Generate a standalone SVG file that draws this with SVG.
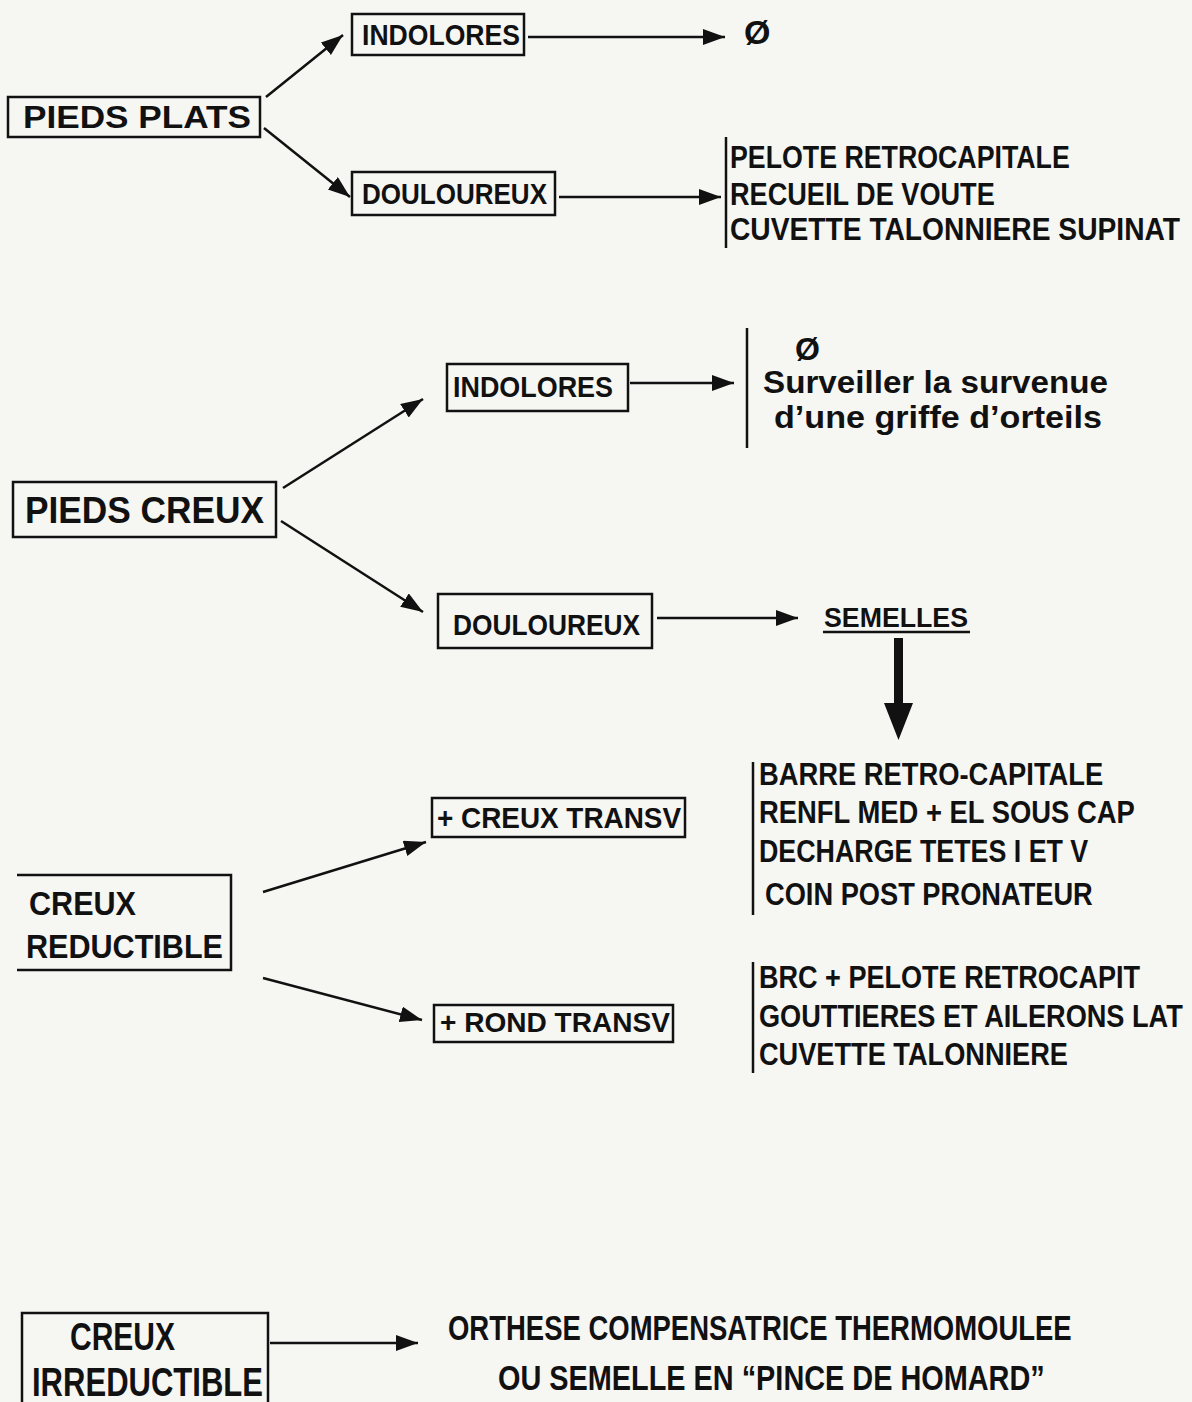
<svg xmlns="http://www.w3.org/2000/svg" width="1192" height="1402" viewBox="0 0 1192 1402">
<style>
.bg{fill:#f6f6f3}
.box{fill:none;stroke:#111;stroke-width:2.5}
.t{font-family:"Liberation Sans Narrow","Liberation Sans",Arial,sans-serif;font-weight:bold;fill:#111}
.bar{stroke:#111;stroke-width:2.5}
.c{stroke:#111;stroke-width:2.5;fill:none;marker-end:url(#ah)}
</style>
<defs>
<marker id="ah" markerUnits="userSpaceOnUse" markerWidth="24" markerHeight="18" refX="22" refY="8" orient="auto">
<path d="M0,0 L22,8 L0,16 z" fill="#111"/>
</marker>
</defs>
<rect class="bg" x="0" y="0" width="1192" height="1402"/>

<g id="pieds-plats">
<rect class="box" x="8" y="97" width="252" height="40"/>
<text class="t" x="23" y="128" font-size="31" textLength="228" lengthAdjust="spacingAndGlyphs">PIEDS PLATS</text>
</g>
<g id="indolores-1">
<rect class="box" x="352" y="14" width="172" height="41"/>
<text class="t" x="362" y="45" font-size="30" textLength="158" lengthAdjust="spacingAndGlyphs">INDOLORES</text>
</g>
<g id="douloureux-1">
<rect class="box" x="352" y="172" width="203" height="43"/>
<text class="t" x="362" y="204" font-size="30" textLength="185" lengthAdjust="spacingAndGlyphs">DOULOUREUX</text>
</g>
<g id="rien-1">
<text class="t" x="744" y="44" font-size="34">Ø</text>
</g>
<g id="traitement-plats">
<line class="bar" x1="726" y1="137" x2="726" y2="248"/>
<text class="t" transform="translate(730,168) scale(0.75,1)" font-size="31" textLength="453" lengthAdjust="spacingAndGlyphs">PELOTE RETROCAPITALE</text>
<text class="t" transform="translate(730,205) scale(0.75,1)" font-size="31" textLength="353" lengthAdjust="spacingAndGlyphs">RECUEIL DE VOUTE</text>
<text class="t" transform="translate(730,240) scale(0.75,1)" font-size="31" textLength="600" lengthAdjust="spacingAndGlyphs">CUVETTE TALONNIERE SUPINAT</text>
</g>

<g id="pieds-creux">
<rect class="box" x="13" y="482" width="263" height="55"/>
<text class="t" x="25" y="523" font-size="36" textLength="239" lengthAdjust="spacingAndGlyphs">PIEDS CREUX</text>
</g>
<g id="indolores-2">
<rect class="box" x="447" y="364" width="181" height="47"/>
<text class="t" x="453" y="397" font-size="30" textLength="160" lengthAdjust="spacingAndGlyphs">INDOLORES</text>
</g>
<g id="surveiller">
<line class="bar" x1="747" y1="328" x2="747" y2="448"/>
<text class="t" x="795" y="360" font-size="32">Ø</text>
<text class="t" x="763" y="393" font-size="31" textLength="345" lengthAdjust="spacingAndGlyphs">Surveiller la survenue</text>
<text class="t" x="774" y="428" font-size="31" textLength="328" lengthAdjust="spacingAndGlyphs">d’une griffe d’orteils</text>
</g>
<g id="douloureux-2">
<rect class="box" x="438" y="594" width="214" height="54"/>
<text class="t" x="453" y="635" font-size="30" textLength="187" lengthAdjust="spacingAndGlyphs">DOULOUREUX</text>
</g>
<g id="semelles">
<text class="t" x="824" y="627" font-size="28" textLength="144" lengthAdjust="spacingAndGlyphs">SEMELLES</text>
<line class="bar" x1="823" y1="632" x2="970" y2="632"/>
</g>
<g id="traitement-creux">
<line class="bar" x1="753" y1="762" x2="753" y2="915"/>
<text class="t" transform="translate(759,785) scale(0.75,1)" font-size="32" textLength="459" lengthAdjust="spacingAndGlyphs">BARRE RETRO-CAPITALE</text>
<text class="t" transform="translate(759,823) scale(0.75,1)" font-size="32" textLength="501" lengthAdjust="spacingAndGlyphs">RENFL MED + EL SOUS CAP</text>
<text class="t" transform="translate(759,862) scale(0.75,1)" font-size="32" textLength="439" lengthAdjust="spacingAndGlyphs">DECHARGE TETES I ET V</text>
<text class="t" transform="translate(765,905) scale(0.75,1)" font-size="32" textLength="437" lengthAdjust="spacingAndGlyphs">COIN POST PRONATEUR</text>
</g>
<g id="creux-transv">
<rect class="box" x="432" y="798" width="253" height="39"/>
<text class="t" x="437" y="828" font-size="30" textLength="244" lengthAdjust="spacingAndGlyphs">+ CREUX TRANSV</text>
</g>
<g id="creux-reductible">
<path class="box" d="M17,875 H231 V970 H17"/>
<text class="t" x="29" y="915" font-size="34" textLength="107" lengthAdjust="spacingAndGlyphs">CREUX</text>
<text class="t" x="26" y="958" font-size="34" textLength="197" lengthAdjust="spacingAndGlyphs">REDUCTIBLE</text>
</g>
<g id="rond-transv">
<rect class="box" x="434" y="1005" width="239" height="37"/>
<text class="t" x="440" y="1032" font-size="28" textLength="230" lengthAdjust="spacingAndGlyphs">+ ROND TRANSV</text>
</g>
<g id="traitement-rond">
<line class="bar" x1="753" y1="962" x2="753" y2="1073"/>
<text class="t" transform="translate(759,988) scale(0.75,1)" font-size="32" textLength="508" lengthAdjust="spacingAndGlyphs">BRC + PELOTE RETROCAPIT</text>
<text class="t" transform="translate(759,1027) scale(0.75,1)" font-size="32" textLength="565" lengthAdjust="spacingAndGlyphs">GOUTTIERES ET AILERONS LAT</text>
<text class="t" transform="translate(759,1065) scale(0.75,1)" font-size="32" textLength="412" lengthAdjust="spacingAndGlyphs">CUVETTE TALONNIERE</text>
</g>

<g id="creux-irreductible">
<rect class="box" x="22" y="1313" width="246" height="100"/>
<text class="t" x="70" y="1350" font-size="38" textLength="105" lengthAdjust="spacingAndGlyphs">CREUX</text>
<text class="t" x="32" y="1396" font-size="40" textLength="231" lengthAdjust="spacingAndGlyphs">IRREDUCTIBLE</text>
</g>
<g id="orthese">
<text class="t" transform="translate(448,1340) scale(0.7,1)" font-size="35" textLength="891" lengthAdjust="spacingAndGlyphs">ORTHESE COMPENSATRICE THERMOMOULEE</text>
<text class="t" transform="translate(498,1390) scale(0.7,1)" font-size="35" textLength="781" lengthAdjust="spacingAndGlyphs">OU SEMELLE EN “PINCE DE HOMARD”</text>
</g>

<g id="connectors">
<line class="c" x1="266" y1="97" x2="343" y2="35"/>
<line class="c" x1="264" y1="128" x2="350" y2="197"/>
<line class="c" x1="528" y1="37" x2="725" y2="37"/>
<line class="c" x1="559" y1="197" x2="721" y2="197"/>
<line class="c" x1="283" y1="488" x2="423" y2="399"/>
<line class="c" x1="281" y1="521" x2="423" y2="612"/>
<line class="c" x1="630" y1="383" x2="734" y2="383"/>
<line class="c" x1="657" y1="618" x2="798" y2="618"/>
<path d="M894,638 H903 V703 H913 L898.5,740 L884,703 H894 Z" fill="#111"/>
<line class="c" x1="263" y1="892" x2="426" y2="842"/>
<line class="c" x1="263" y1="978" x2="422" y2="1020"/>
<line class="c" x1="270" y1="1343" x2="418" y2="1343"/>
</g>
</svg>
